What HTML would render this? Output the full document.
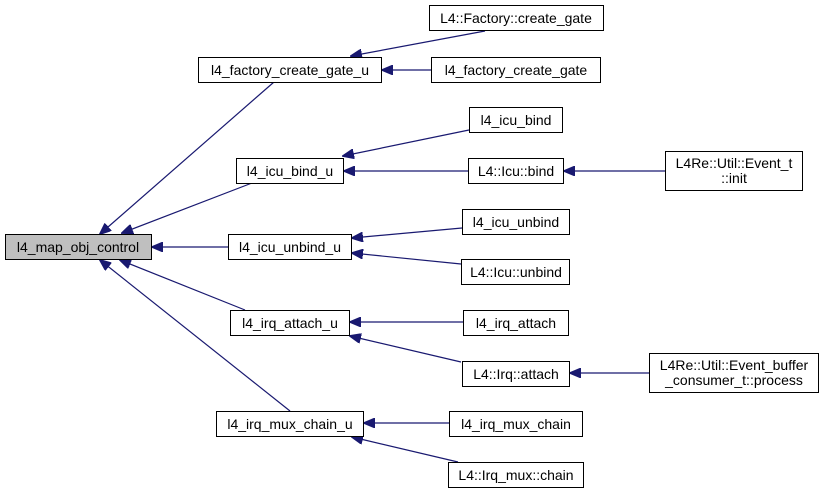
<!DOCTYPE html>
<html><head><meta charset="utf-8"><style>
html,body{margin:0;padding:0;background:#fff}
svg{display:block}
text{font-family:"Liberation Sans",sans-serif;font-size:14px;fill:#000}
rect{stroke:#000;stroke-width:1;fill:#fff}
line{stroke:#191970;stroke-width:1.2}
</style></head><body>
<svg width="823" height="493" viewBox="0 0 823 493" xmlns="http://www.w3.org/2000/svg">
<defs><marker id="a" markerWidth="12" markerHeight="10" refX="11" refY="5" orient="auto" markerUnits="userSpaceOnUse"><path d="M0,0 L12,5 L0,10 Z" fill="#191970" stroke="#191970"/></marker></defs>
<g>
<line x1="274" y1="82" x2="100" y2="234" marker-end="url(#a)"/>
<line x1="252" y1="183" x2="122" y2="233" marker-end="url(#a)"/>
<line x1="228" y1="247" x2="152" y2="247" marker-end="url(#a)"/>
<line x1="245" y1="310" x2="120" y2="260" marker-end="url(#a)"/>
<line x1="290" y1="411" x2="100" y2="260" marker-end="url(#a)"/>
<line x1="485" y1="31" x2="351" y2="56" marker-end="url(#a)"/>
<line x1="431" y1="70" x2="382" y2="70" marker-end="url(#a)"/>
<line x1="469" y1="130" x2="343" y2="156" marker-end="url(#a)"/>
<line x1="468" y1="171" x2="344" y2="171" marker-end="url(#a)"/>
<line x1="665" y1="171" x2="564" y2="171" marker-end="url(#a)"/>
<line x1="462" y1="228" x2="352" y2="238" marker-end="url(#a)"/>
<line x1="461" y1="264" x2="352" y2="253" marker-end="url(#a)"/>
<line x1="463" y1="322" x2="350" y2="322" marker-end="url(#a)"/>
<line x1="461" y1="362" x2="350" y2="336" marker-end="url(#a)"/>
<line x1="649" y1="373" x2="570" y2="373" marker-end="url(#a)"/>
<line x1="449" y1="423" x2="364" y2="423" marker-end="url(#a)"/>
<line x1="458" y1="462" x2="352" y2="437" marker-end="url(#a)"/>
</g>
<rect x="5.5" y="234.5" width="146" height="25" style="fill:#bfbfbf"/>
<text x="78" y="252" text-anchor="middle">l4_map_obj_control</text>
<rect x="198.5" y="57.5" width="183" height="25"/><text x="290" y="75" text-anchor="middle">l4_factory_create_gate_u</text>
<rect x="236.5" y="158.5" width="107" height="25"/><text x="290" y="176" text-anchor="middle">l4_icu_bind_u</text>
<rect x="228.5" y="234.5" width="123" height="25"/><text x="290" y="252" text-anchor="middle">l4_icu_unbind_u</text>
<rect x="230.5" y="310.5" width="119" height="25"/><text x="290" y="328" text-anchor="middle">l4_irq_attach_u</text>
<rect x="216.5" y="411.5" width="147" height="25"/><text x="290" y="429" text-anchor="middle">l4_irq_mux_chain_u</text>
<rect x="429.5" y="5.5" width="174" height="25"/><text x="516" y="23" text-anchor="middle">L4::Factory::create_gate</text>
<rect x="431.5" y="57.5" width="169" height="25"/><text x="516" y="75" text-anchor="middle">l4_factory_create_gate</text>
<rect x="469.5" y="107.5" width="93" height="25"/><text x="516" y="125" text-anchor="middle">l4_icu_bind</text>
<rect x="468.5" y="158.5" width="95" height="25"/><text x="516" y="176" text-anchor="middle">L4::Icu::bind</text>
<rect x="462.5" y="209.5" width="107" height="25"/><text x="516" y="227" text-anchor="middle">l4_icu_unbind</text>
<rect x="461.5" y="259.5" width="108" height="25"/><text x="516" y="277" text-anchor="middle">L4::Icu::unbind</text>
<rect x="463.5" y="310.5" width="105" height="25"/><text x="516" y="328" text-anchor="middle">l4_irq_attach</text>
<rect x="462.5" y="361.5" width="107" height="25"/><text x="516" y="379" text-anchor="middle">L4::Irq::attach</text>
<rect x="449.5" y="411.5" width="133" height="25"/><text x="516" y="429" text-anchor="middle">l4_irq_mux_chain</text>
<rect x="448.5" y="462.5" width="135" height="25"/><text x="516" y="480" text-anchor="middle">L4::Irq_mux::chain</text>
<rect x="665.5" y="151.5" width="137" height="39"/><text x="734" y="168" text-anchor="middle">L4Re::Util::Event_t</text><text x="734" y="183" text-anchor="middle">::init</text>
<rect x="649.5" y="353.5" width="169" height="39"/><text x="734" y="370" text-anchor="middle">L4Re::Util::Event_buffer</text><text x="734" y="385" text-anchor="middle">_consumer_t::process</text>
</svg>
</body></html>
